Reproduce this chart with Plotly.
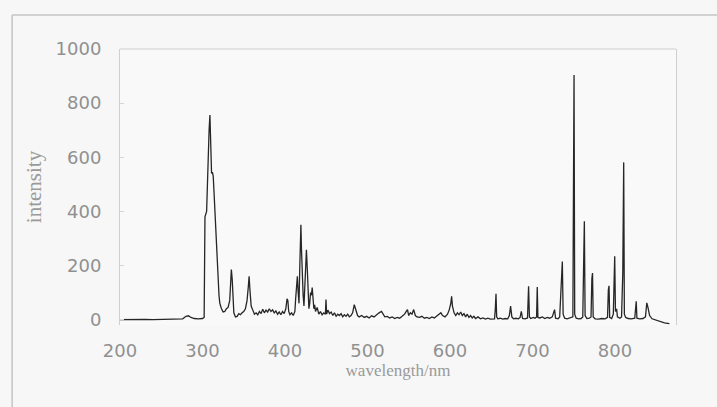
import plotly.graph_objects as go

# Emission spectrum: wavelength (nm) and measured intensity
wavelength = [
    200, 210, 220, 230, 240, 250, 260, 270, 276, 280, 283, 286, 290, 295, 300, 302,
    303, 305, 306, 307, 308, 309, 309.6, 310, 311, 312, 313, 314, 315, 316, 317, 318,
    319, 320, 321, 322, 323, 325, 327, 329, 331, 333, 334, 335, 336, 337, 338, 340,
    342, 344, 346, 348, 350, 352, 354, 355.5, 356.5, 357.5, 359, 361, 363, 365, 367,
    369, 371, 373, 375, 377, 379, 381, 383, 385, 387, 389, 391, 393, 395, 397, 399,
    401, 402.5, 403.5, 404.5, 406, 408, 410, 412, 413, 414, 415, 416, 417, 418, 419.3,
    420, 421, 422, 423, 424, 425, 426, 427, 428, 429, 430, 431, 432, 433, 434, 435,
    436, 437, 439, 441, 443, 445, 447, 449, 449.7, 450.5, 452, 454, 456, 458, 460,
    462, 464, 466, 468, 470, 472, 474, 476, 478, 480, 482, 484, 486, 488, 490, 493,
    496, 499, 502, 505, 508, 511, 514, 517, 519, 521, 524, 527, 530, 533, 536, 539,
    542, 545, 547, 548.5, 550, 552, 554, 556, 558, 560, 563, 566, 569, 572, 575, 578,
    581, 584, 587, 589, 591, 594, 597, 599, 601, 602, 603, 605, 607, 609, 611, 613,
    615, 617, 619, 621, 623, 625, 627, 629, 631, 634, 637, 640, 643, 646, 649, 652,
    654, 655, 655.8, 656.6, 658, 661, 664, 667, 670, 672, 673.5, 675, 677, 680, 683,
    685, 686.5, 688, 691, 694, 695.3, 696.3, 698, 701, 703, 705, 705.8, 706.6, 709,
    712, 715, 718, 721, 724, 726.8, 728, 731, 733, 735, 736.2, 737.2, 739, 742, 745,
    747, 749, 749.8, 750.4, 751.2, 753, 756, 759, 761, 762, 762.9, 763.8, 766, 769,
    771, 772, 772.8, 773.6, 776, 780, 784, 788, 791, 792, 792.8, 793.6, 796, 798,
    799.7, 800.6, 802, 803, 806, 808, 809.5, 810.6, 811.4, 813, 816, 820, 824, 825.8,
    826.6, 830, 834, 837, 838.6, 840, 842, 845, 848, 852, 856, 860, 866,
]
intensity = [
    0, 1, 0, 1, 0, 1, 0, 1, 3, 12, 14, 8, 4, 3, 4, 8,
    380, 400, 520, 600, 700, 756, 650, 560, 540, 545, 530, 470, 400, 320, 260, 190,
    120, 90, 60, 45, 40, 28, 30, 40, 45, 70, 110, 185, 150, 60, 25, 10,
    12, 22, 18, 25, 30, 40, 70, 120, 160, 110, 50, 35, 20, 25, 18,
    30, 22, 38, 25, 35, 28, 40, 30, 36, 25, 32, 20, 28, 18, 30, 22,
    40, 77, 70, 30, 18, 25, 15, 30, 80, 120, 160, 100, 60, 200, 350,
    260, 120, 90, 50, 110, 210, 258, 190, 80, 40, 60, 100, 90, 118, 80, 40,
    55, 30, 45, 20, 30, 18, 25, 20, 74, 20, 35, 22, 28, 15, 25,
    12, 20, 15, 22, 10, 18, 12, 20, 10, 15, 25, 55, 30, 15, 10, 15,
    8, 12, 6, 14, 10, 18, 25, 30, 20, 10, 12, 6, 10, 4, 8, 5,
    12, 20, 30, 37, 15, 25, 20, 37, 15, 10, 8, 12, 5, 8, 4, 10,
    6, 12, 18, 25, 15, 10, 20, 35, 60, 86, 50, 25, 15, 25, 18, 28,
    15, 22, 10, 20, 8, 15, 6, 12, 4, 10, 3, 6, 2, 5, 2, 4,
    3, 40, 95, 10, 3, 5, 2, 4, 3, 15, 50, 10, 3, 5, 3,
    8, 30, 4, 3, 6, 123, 10, 4, 8, 5, 10, 120, 8, 6,
    10, 4, 8, 5, 10, 37, 5, 3, 10, 150, 215, 20, 5, 3, 5,
    8, 10, 540, 904, 20, 5, 3, 4, 10, 326, 363, 15, 4, 5,
    10, 150, 172, 10, 3, 2, 4, 3, 8, 110, 125, 8, 4, 20,
    234, 30, 40, 10, 5, 10, 173, 581, 20, 8, 4, 3, 5, 68,
    5, 3, 4, 10, 62, 45, 15, 3, 0, -3, -8, -12, -15,
]

x_ticks = [200, 300, 400, 500, 600, 700, 800]
y_ticks = [0, 200, 400, 600, 800, 1000]

tick_font = dict(family="DejaVu Sans", size=18, color="#909090")
title_font_color = "#9a9a9a"
frame_color = "#cfcfcf"

fig = go.Figure()
fig.add_trace(go.Scatter(
    x=wavelength, y=intensity, mode="lines",
    line=dict(color="#262626", width=1.3),
    showlegend=False, hoverinfo="skip",
))

fig.update_layout(
    width=717, height=407,
    margin=dict(l=120, r=41, t=49, b=82),
    paper_bgcolor="#f7f7f7", plot_bgcolor="#f9f9f9",
    xaxis=dict(
        range=[200, 874], tickvals=x_ticks, ticktext=[str(v) for v in x_ticks],
        showgrid=False, zeroline=False, showline=False, ticks="",
        tickfont=tick_font, ticklabelstandoff=13,
        title=dict(text="wavelength/nm", standoff=4,
                   font=dict(family="Liberation Serif", size=17, color=title_font_color)),
    ),
    yaxis=dict(
        range=[-20, 1000], tickvals=y_ticks, ticktext=[str(v) for v in y_ticks],
        showgrid=False, zeroline=False, showline=True, mirror=True,
        linecolor=frame_color, linewidth=1,
        ticks="inside", ticklen=4, tickcolor="#d6d6d6",
        tickfont=tick_font, ticklabelstandoff=14,
        title=dict(text="intensity", standoff=8,
                   font=dict(family="Liberation Serif", size=21, color=title_font_color)),
    ),
    shapes=[
        # top edge of the plotting box
        dict(type="line", xref="paper", yref="paper", x0=0, x1=1, y0=1, y1=1,
             line=dict(color=frame_color, width=1)),
        # outer panel border (top and left)
        dict(type="line", xref="paper", yref="paper", x0=-0.194, x1=1.08, y0=1.123, y1=1.123,
             line=dict(color="#c4c4c4", width=1.5)),
        dict(type="line", xref="paper", yref="paper", x0=-0.194, x1=-0.194, y0=-0.3, y1=1.123,
             line=dict(color="#c4c4c4", width=1.5)),
    ],
)

fig.write_html("out.html")
